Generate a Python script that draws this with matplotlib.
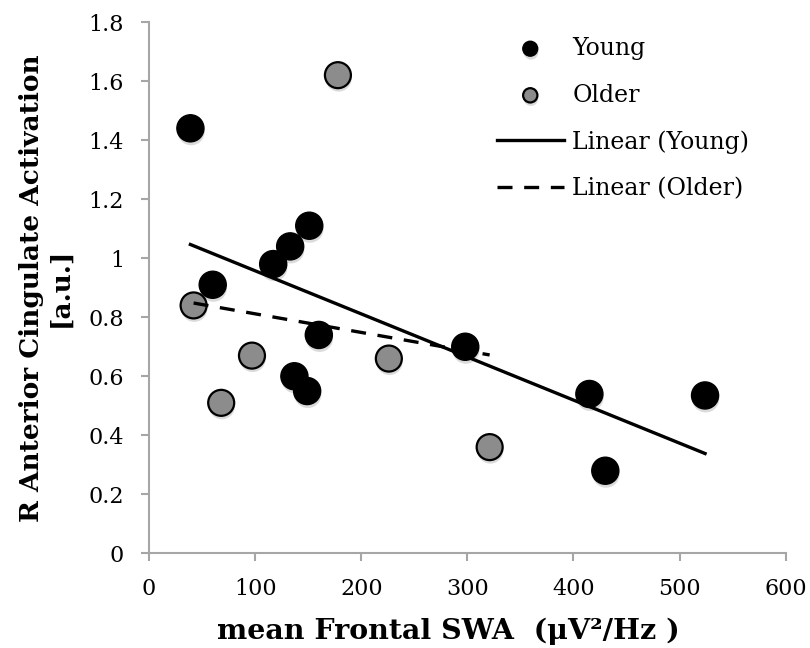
import numpy as np
import matplotlib.pyplot as plt
import matplotlib.patheffects as pe

plt.rcParams['font.family'] = ['DejaVu Serif']

# mean frontal SWA vs R anterior cingulate activation
young_x = [39, 60, 117, 133, 151, 160, 137, 149, 298, 415, 430, 524]
young_y = [1.44, 0.91, 0.98, 1.04, 1.11, 0.74, 0.60, 0.55, 0.70, 0.54, 0.28, 0.535]
older_x = [42, 97, 68, 226, 321, 178]
older_y = [0.84, 0.67, 0.51, 0.66, 0.36, 1.62]

xticks = [0, 100, 200, 300, 400, 500, 600]
yticks = [0, 0.2, 0.4, 0.6, 0.8, 1, 1.2, 1.4, 1.6, 1.8]
ytick_labels = ['0', '0.2', '0.4', '0.6', '0.8', '1', '1.2', '1.4', '1.6', '1.8']

fig = plt.figure(figsize=(8.1, 6.48), dpi=100)
ax = fig.add_axes([0.184, 0.146, 0.786, 0.820])

shadow = [pe.SimplePatchShadow(offset=(0.5, -2.5), shadow_rgbFace='#999999', alpha=0.35),
          pe.Normal()]

ax.scatter(young_x, young_y, s=380, c='black', edgecolors='black', linewidths=1,
           zorder=3, label='Young', path_effects=shadow)
ax.scatter(older_x, older_y, s=350, c='#8c8c8c', edgecolors='black', linewidths=1.6,
           zorder=3, label='Older', path_effects=shadow)

# least-squares trend lines over each group's range
for xs, ys, ls, name in [(young_x, young_y, '-', 'Linear (Young)'),
                         (older_x, older_y, (0, (4.5, 3.5)), 'Linear (Older)')]:
    k, b = np.polyfit(xs, ys, 1)
    xl = np.array([min(xs), max(xs)])
    ax.plot(xl, k * xl + b, color='black', lw=2.4, ls=ls, zorder=4, label=name)

ax.set_xlim(0, 600)
ax.set_ylim(0, 1.8)
ax.set_xticks(xticks)
ax.set_yticks(yticks)
ax.set_yticklabels(ytick_labels)

for s in ['top', 'right']:
    ax.spines[s].set_visible(False)
for s in ['left', 'bottom']:
    ax.spines[s].set_color('#a6a6a6')
    ax.spines[s].set_linewidth(1.5)
ax.tick_params(axis='both', direction='out', length=6, width=1.5, color='#a6a6a6',
               labelsize=16, labelcolor='black')
ax.tick_params(axis='x', pad=12)
ax.tick_params(axis='y', pad=12)

ax.set_xlabel('mean Frontal SWA  (μV²/Hz )', fontsize=20.5, fontweight='bold')
ax.xaxis.set_label_coords(0.47, -0.12)
ax.set_ylabel('R Anterior Cingulate Activation\n[a.u.]', fontsize=19, fontweight='bold',
              linespacing=1.2)
ax.yaxis.set_label_coords(-0.12, 0.5)

leg = ax.legend(loc='upper right', bbox_to_anchor=(0.976, 1.012), frameon=False,
                fontsize=17, handlelength=2.85, handletextpad=0.35, labelspacing=1.0,
                markerscale=0.55)

fig.savefig('out.png', dpi=100)
